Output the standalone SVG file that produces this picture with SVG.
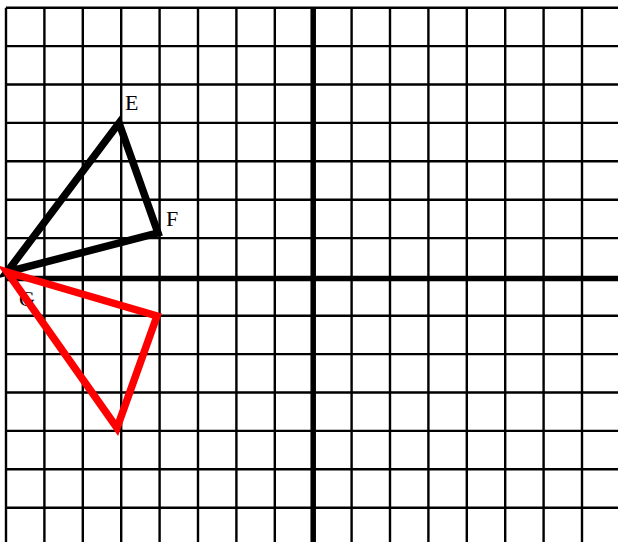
<svg xmlns="http://www.w3.org/2000/svg" width="618" height="542" viewBox="0 0 618 542">
<style>
.g{stroke:#000;stroke-width:2.4;fill:none}
.ax{stroke:#000;stroke-width:5.5;fill:none}
.lbl{font-family:"Liberation Serif",serif;font-size:22px;fill:#000}
.tri{fill:none;stroke-width:7.5;stroke-linejoin:miter}
</style>
<rect width="618" height="542" fill="#fff"/>
<g id="grid">
<path class="g" d="M6 7.7V542M44.4 7.7V542M82.8 7.7V542M121.2 7.7V542M159.6 7.7V542M198 7.7V542M236.4 7.7V542M274.8 7.7V542M351.6 7.7V542M390 7.7V542M428.4 7.7V542M466.8 7.7V542M505.2 7.7V542M543.6 7.7V542M582 7.7V542"/>
<path class="g" d="M6 7.7H618M6 46.1H618M6 84.5H618M6 122.9H618M6 161.3H618M6 199.7H618M6 238.1H618M6 315.7H618M6 354.1H618M6 392.5H618M6 430.9H618M6 469.3H618M6 507.7H618"/>
<path class="ax" d="M313.2 7.7V542M6 278.5H618"/>
</g>
<g id="labels">
<text class="lbl" x="125" y="110">E</text>
<text class="lbl" x="166" y="226">F</text>
<text class="lbl" x="19" y="306">G</text>
</g>
<g id="connectors">
<polygon id="EFG" class="tri" stroke="#000" points="119,123 158,233 7,272"/>
<polygon id="red" class="tri" stroke="#f00" points="7,272 157,316 117,428"/>
</g>
</svg>
